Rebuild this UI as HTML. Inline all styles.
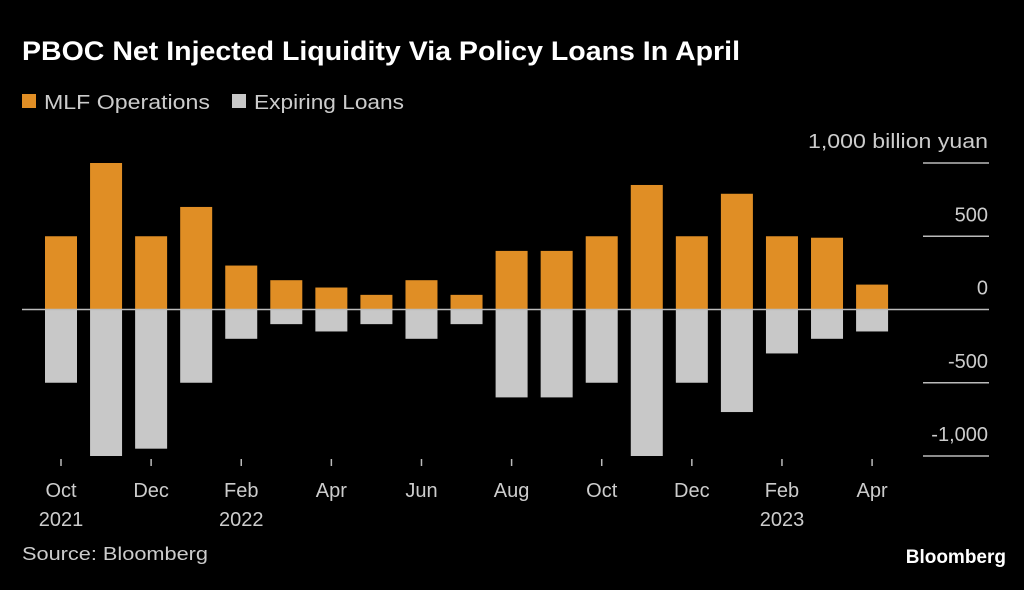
<!DOCTYPE html>
<html><head><meta charset="utf-8"><style>
body{margin:0;background:#000;width:1024px;height:585px;overflow:hidden;font-family:"Liberation Sans",sans-serif;color:#ccc}
</style></head><body>
<svg width="1024" height="585">
<text x="22" y="60" fill="#fff" font-size="27" font-weight="bold" textLength="718" lengthAdjust="spacingAndGlyphs">PBOC Net Injected Liquidity Via Policy Loans In April</text>
<rect x="22" y="94" width="14" height="14" fill="#e08e25"/>
<text x="44" y="109" fill="#ccc" font-size="20" textLength="166" lengthAdjust="spacingAndGlyphs">MLF Operations</text>
<rect x="232" y="94" width="14" height="14" fill="#c8c8c8"/>
<text x="254" y="109" fill="#ccc" font-size="20" textLength="150" lengthAdjust="spacingAndGlyphs">Expiring Loans</text>
<g id="plot"></g>
<text x="22" y="560" fill="#ccc" font-size="18" textLength="186" lengthAdjust="spacingAndGlyphs">Source: Bloomberg</text>
<text x="1006" y="563" fill="#fff" font-size="19" font-weight="bold" text-anchor="end">Bloomberg</text>
</svg>
<script>
const categories=["Oct 2021","Nov","Dec","Jan 2022","Feb","Mar","Apr","May","Jun","Jul","Aug","Sep","Oct","Nov","Dec","Jan 2023","Feb","Mar","Apr"];
const mlfValues=[500,1000,500,700,300,200,150,100,200,100,400,400,500,850,500,790,500,490,170];
const expiringValues=[-500,-1000,-950,-500,-200,-100,-150,-100,-200,-100,-600,-600,-500,-1000,-500,-700,-300,-200,-150];
const yTicks=[1000,500,0,-500,-1000];
const yTickLabels=["1,000 billion yuan","500","0","-500","-1,000"];
const xLabels=[["Oct","2021"],null,["Dec",""],null,["Feb","2022"],null,["Apr",""],null,["Jun",""],null,["Aug",""],null,["Oct",""],null,["Dec",""],null,["Feb","2023"],null,["Apr",""]];
const NS="http://www.w3.org/2000/svg";
const g=document.getElementById('plot');
const y=v=>309.5-v*0.1465;
const x=i=>61+i*45.06;
const bw=32;
function mk(t,a){const e=document.createElementNS(NS,t);for(const k in a)e.setAttribute(k,a[k]);g.appendChild(e);return e;}
yTicks.forEach((t,i)=>{
 if(t!==0){const l=mk('line',{x1:923,x2:989,y1:y(t),y2:y(t),stroke:'#bbb','stroke-width':1.5});
 
 }
 const a={x:988,y:y(t)-15,fill:'#ccc','font-size':20,'text-anchor':'end'};
 if(i===0){a.textLength=180;a.lengthAdjust='spacingAndGlyphs';}
 const tx=mk('text',a);tx.textContent=yTickLabels[i];
 
 
});
categories.forEach((c,i)=>{
 const m=mlfValues[i],e=expiringValues[i];
 const r1=mk('rect',{x:x(i)-bw/2,y:y(m),width:bw,height:y(0)-y(m),fill:'#e08e25'});
 
 
 const r2=mk('rect',{x:x(i)-bw/2,y:y(0),width:bw,height:y(e)-y(0),fill:'#c8c8c8'});
 
 
 if(xLabels[i]){
  const tk=mk('line',{x1:x(i),x2:x(i),y1:459,y2:466,stroke:'#bbb','stroke-width':1.5});
  
  
  const t1=mk('text',{x:x(i),y:497,fill:'#ccc','font-size':20,'text-anchor':'middle'});t1.textContent=xLabels[i][0];
  
  
  if(xLabels[i][1]){const t2=mk('text',{x:x(i),y:526,fill:'#ccc','font-size':20,'text-anchor':'middle'});t2.textContent=xLabels[i][1];
  
  }
 }
});
const z=mk('line',{x1:22,x2:989,y1:y(0),y2:y(0),stroke:'#bbb','stroke-width':1.5});


</script>
</body></html>
